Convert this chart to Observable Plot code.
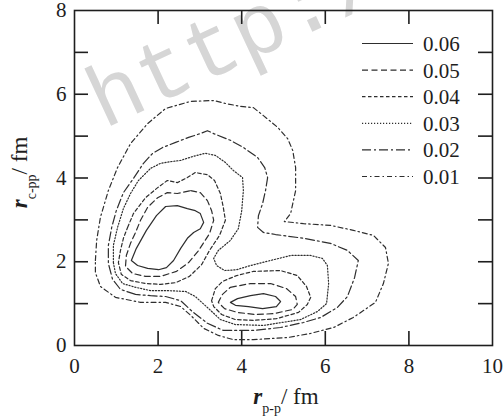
<!DOCTYPE html>
<html><head><meta charset="utf-8">
<script src="https://cdn.jsdelivr.net/npm/d3@7"></script>
<script src="https://cdn.jsdelivr.net/npm/@observablehq/plot@0.6"></script>
<style>
html,body{margin:0;padding:0;background:#fff;}
#chart{position:relative;width:503px;height:418px;}
</style></head><body><div id="chart"></div>
<script>
// ---- data ----
const levels = [0.06, 0.05, 0.04, 0.03, 0.02, 0.01];
const xTickLabels = [0, 2, 4, 6, 8, 10];
const yTickLabels = [0, 2, 4, 6, 8];
const xInnerTicks = [2, 4, 6, 8];
const yInnerTicks = [1, 2, 3, 4, 5, 6, 7];

// contour rings, [r_p-p, r_c-pp] in fm
const c06_left = [[2.18,3.32],[2.46,3.34],[2.70,3.27],[2.89,3.22],[3.01,3.15],[3.09,2.94],[3.01,2.79],[2.85,2.70],[2.70,2.56],[2.54,2.32],[2.37,2.03],[2.20,1.86],[2.01,1.81],[1.75,1.84],[1.51,1.91],[1.36,2.03],[1.48,2.32],[1.72,2.75],[1.96,3.10]];
const c06_low = [[3.73,1.03],[3.90,1.12],[4.21,1.19],[4.52,1.24],[4.81,1.17],[4.93,1.05],[4.83,0.93],[4.50,0.88],[4.16,0.93],[3.85,0.96]];
const c05_left = [[2.78,3.70],[3.01,3.65],[3.18,3.46],[3.28,3.22],[3.33,2.99],[3.23,2.67],[2.97,2.27],[2.73,1.98],[2.44,1.77],[2.06,1.65],[1.70,1.65],[1.39,1.72],[1.22,1.89],[1.24,2.15],[1.34,2.44],[1.46,2.70],[1.58,2.99],[1.75,3.30],[1.99,3.53],[2.22,3.65],[2.46,3.63]];
const c05_low = [[3.73,1.39],[4.21,1.48],[4.69,1.48],[5.07,1.36],[5.29,1.17],[5.33,0.98],[5.22,0.86],[4.76,0.76],[4.33,0.74],[3.90,0.79],[3.59,0.88],[3.44,1.03],[3.54,1.22]];
const c04_left = [[1.27,2.82],[1.41,3.15],[1.70,3.53],[1.99,3.77],[2.22,3.94],[2.46,3.89],[2.70,4.01],[2.89,4.13],[3.18,4.08],[3.35,3.94],[3.49,3.63],[3.56,3.30],[3.61,2.99],[3.47,2.63],[3.23,2.27],[3.04,1.93],[2.75,1.65],[2.42,1.50],[2.06,1.46],[1.70,1.48],[1.34,1.55],[1.12,1.70],[1.05,1.98],[1.10,2.27],[1.17,2.56]];
const c04_low = [[3.28,1.07],[3.37,1.36],[3.54,1.53],[3.88,1.67],[4.28,1.77],[4.93,1.79],[5.33,1.67],[5.55,1.41],[5.65,1.15],[5.57,0.98],[5.36,0.79],[4.83,0.64],[4.28,0.60],[3.85,0.62],[3.52,0.74],[3.33,0.93]];
const c03 = [[0.93,1.98],[0.93,2.39],[1.03,2.82],[1.17,3.27],[1.34,3.63],[1.53,3.94],[1.82,4.23],[2.06,4.35],[2.30,4.39],[2.54,4.42],[2.82,4.51],[3.13,4.59],[3.37,4.54],[3.61,4.37],[3.80,4.18],[4.02,4.01],[4.04,3.70],[4.00,3.22],[3.92,2.79],[3.73,2.51],[3.44,2.27],[3.33,2.08],[3.40,1.91],[3.59,1.79],[3.88,1.81],[4.21,1.91],[4.69,2.03],[5.17,2.15],[5.65,2.15],[5.93,2.08],[6.05,1.91],[6.08,1.48],[6.03,1.00],[5.81,0.81],[5.41,0.62],[4.52,0.48],[3.85,0.50],[3.49,0.62],[3.21,0.88],[2.89,1.17],[2.66,1.29],[2.25,1.31],[1.82,1.31],[1.46,1.39],[1.15,1.48],[0.98,1.72]];
const c02 = [[1.46,1.22],[1.10,1.34],[0.91,1.58],[0.81,1.96],[0.81,2.39],[0.89,2.82],[1.00,3.22],[1.17,3.65],[1.41,3.99],[1.65,4.35],[1.87,4.59],[2.11,4.73],[2.42,4.85],[2.73,4.97],[3.01,5.06],[3.18,5.13],[3.33,5.06],[3.73,4.90],[4.04,4.73],[4.38,4.49],[4.55,4.25],[4.62,4.01],[4.57,3.70],[4.50,3.39],[4.40,3.10],[4.38,2.82],[4.52,2.70],[4.81,2.65],[5.48,2.56],[6.12,2.44],[6.53,2.27],[6.79,2.03],[6.70,1.62],[6.53,1.17],[6.29,0.91],[5.89,0.67],[5.48,0.55],[4.93,0.43],[4.28,0.36],[3.56,0.36],[3.18,0.53],[2.82,0.81],[2.54,1.07],[2.18,1.17],[1.82,1.19]];
const c01 = [[0.50,2.03],[0.53,2.51],[0.62,3.06],[0.81,3.70],[1.03,4.25],[1.34,4.82],[1.75,5.30],[2.18,5.66],[2.78,5.83],[3.33,5.85],[3.61,5.78],[3.97,5.71],[4.28,5.68],[4.52,5.49],[4.86,5.21],[5.10,4.94],[5.22,4.66],[5.29,4.25],[5.29,3.70],[5.17,3.15],[5.02,2.96],[5.48,2.91],[6.12,2.87],[6.67,2.75],[7.15,2.63],[7.44,2.34],[7.51,1.96],[7.39,1.48],[7.20,1.03],[6.67,0.67],[6.20,0.43],[5.65,0.29],[5.10,0.19],[4.28,0.14],[3.80,0.14],[3.44,0.24],[3.09,0.41],[2.78,0.72],[2.54,0.93],[2.18,1.03],[1.58,1.03],[0.98,1.15],[0.62,1.41],[0.50,1.74]];

const ringsByLevel = [[c06_left, c06_low], [c05_left, c05_low], [c04_left, c04_low], [c03], [c02], [c01]];
const dashes = [undefined, "6,3.5", "3.5,2.5", "1.2,1.8", "9,3,2,3", "5,3,1.5,3"];

// ---- build table ----
const rows = [];
levels.forEach((lv, li) => ringsByLevel[li].forEach((ring, ri) =>
  ring.forEach(([x, y]) => rows.push({level: lv, ring: lv + "-" + ri, x, y}))));

const W = 503, H = 418, mL = 74, mR = 11, mT = 10, mB = 73;
const iw = W - mL - mR, ih = H - mT - mB, tk = 14;
const ink = "#1e1e1e", lineInk = "#2e2e2e";
const serif = "Liberation Serif";

const lineMarks = levels.map((lv, i) => Plot.line(rows.filter(r => r.level === lv), {
  x: "x", y: "y", z: "ring", curve: "linear-closed",
  stroke: lineInk, strokeWidth: 1.2, strokeDasharray: dashes[i]
}));

const svg = Plot.plot({
  width: W, height: H,
  marginLeft: mL, marginRight: mR, marginTop: mT, marginBottom: mB,
  x: {domain: [0, 10]},
  y: {domain: [0, 8]},
  style: {fontFamily: serif, fontSize: "21px", color: ink, background: "#fff"},
  marks: [
    Plot.axisX(xTickLabels, {tickSize: 0, tickPadding: 13, label: null, fontSize: 21, fontFamily: serif}),
    Plot.axisY(yTickLabels, {tickSize: 0, tickPadding: 8, label: null, fontSize: 21, fontFamily: serif}),
    Plot.ruleX(xInnerTicks, {insetTop: ih - tk, stroke: ink, strokeWidth: 1.6}),
    Plot.ruleX(xInnerTicks, {insetBottom: ih - tk, stroke: ink, strokeWidth: 1.6}),
    Plot.ruleY(yInnerTicks, {insetRight: iw - tk, stroke: ink, strokeWidth: 1.6}),
    Plot.ruleY(yInnerTicks, {insetLeft: iw - tk, stroke: ink, strokeWidth: 1.6}),
    ...lineMarks,
    Plot.frame({stroke: ink, strokeWidth: 1.6})
  ]
});
document.getElementById("chart").appendChild(svg);

const s = d3.select(svg);

// watermark (behind everything)
s.insert("text", ":first-child")
  .attr("transform", "translate(104,129) rotate(-25)")
  .attr("text-anchor", "start")
  .attr("font-family", "Liberation Mono")
  .attr("font-size", 87)
  .attr("fill", "#d6d6d6")
  .text("http://");

// axis titles
const xt = s.append("text").attr("x", mL + iw / 2 + 3).attr("y", 404)
  .attr("text-anchor", "middle").attr("font-family", serif).attr("font-size", 23).attr("fill", ink);
xt.append("tspan").attr("font-style", "italic").attr("font-weight", "bold").text("r");
xt.append("tspan").attr("font-size", 14).attr("dy", 9).text("p-p");
xt.append("tspan").attr("dy", -9).text("/ fm");

const yt = s.append("text").attr("transform", `translate(27,${mT + ih / 2 - 5}) rotate(-90)`)
  .attr("text-anchor", "middle").attr("font-family", serif).attr("font-size", 23).attr("fill", ink);
yt.append("tspan").attr("font-style", "italic").attr("font-weight", "bold").text("r");
yt.append("tspan").attr("font-size", 14).attr("dy", 9).text("c-pp");
yt.append("tspan").attr("dy", -9).text("/ fm");

// legend
const lg = s.append("g").attr("text-anchor", "start");
levels.forEach((lv, i) => {
  const yy = 43.5 + i * 26.6;
  const l = lg.append("line").attr("x1", 362).attr("x2", 413).attr("y1", yy).attr("y2", yy)
    .attr("stroke", lineInk).attr("stroke-width", 1.2);
  if (dashes[i]) l.attr("stroke-dasharray", dashes[i]);
  lg.append("text").attr("x", 423).attr("y", yy + 7.5).attr("text-anchor", "start")
    .attr("font-family", serif).attr("font-size", 21).attr("fill", ink).text(lv.toFixed(2));
});
</script></body></html>
